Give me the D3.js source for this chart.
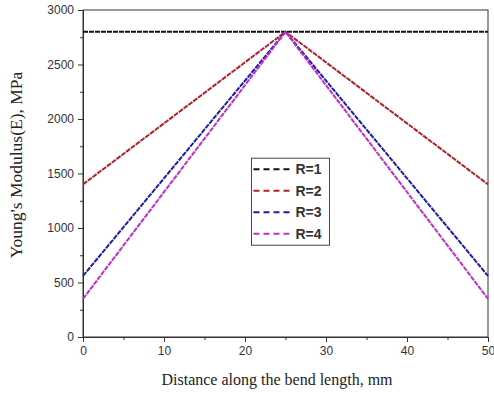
<!DOCTYPE html>
<html>
<head>
<meta charset="utf-8">
<script src="https://cdn.jsdelivr.net/npm/d3@7"></script>
<style>
  body { margin: 0; background: #fff; }
  svg { display: block; }
</style>
</head>
<body>
<div id="chart"></div>
<script>
// data
const distance = [0, 25, 50];
const seriesNames = ['R=1', 'R=2', 'R=3', 'R=4'];
const r1 = [2800, 2800, 2800];
const r2 = [1400, 2800, 1400];
const r3 = [560, 2800, 560];
const r4 = [350, 2800, 350];
const xTicks = [0, 10, 20, 30, 40, 50];
const yTicks = [0, 500, 1000, 1500, 2000, 2500, 3000];

const colors = ['#111111', '#b0202a', '#1c1ca8', '#c22cc8'];
const allSeries = [r1, r2, r3, r4];

const W = 494, H = 393;
const margin = { top: 10, right: 6, bottom: 56, left: 83 };
const width = W - margin.left - margin.right;
const height = H - margin.top - margin.bottom;

const svg = d3.select('#chart').append('svg')
  .attr('width', W).attr('height', H);
const g = svg.append('g')
  .attr('transform', `translate(${margin.left},${margin.top})`);

const x = d3.scaleLinear().domain([0, 50]).range([0, width]);
const y = d3.scaleLinear().domain([0, 3000]).range([height, 0]);

// frame
g.append('rect')
  .attr('width', width).attr('height', height)
  .attr('fill', 'none').attr('stroke', '#333').attr('stroke-width', 1);

// minor ticks
g.append('g')
  .attr('transform', `translate(0,${height})`)
  .call(d3.axisBottom(x).tickValues(d3.range(5, 50, 10)).tickSize(3).tickFormat(''))
  .call(a => a.select('.domain').remove())
  .call(a => a.selectAll('line').attr('stroke', '#333'));
g.append('g')
  .call(d3.axisLeft(y).tickValues(d3.range(250, 3000, 500)).tickSize(3).tickFormat(''))
  .call(a => a.select('.domain').remove())
  .call(a => a.selectAll('line').attr('stroke', '#333'));

// major axes
const fmt = d3.format('d');
const xAxis = g.append('g')
  .attr('transform', `translate(0,${height})`)
  .call(d3.axisBottom(x).tickValues(xTicks).tickFormat(fmt).tickSize(5).tickPadding(4));
const yAxis = g.append('g')
  .call(d3.axisLeft(y).tickValues(yTicks).tickFormat(fmt).tickSize(5).tickPadding(4));
[xAxis, yAxis].forEach(a => {
  a.select('.domain').attr('stroke', '#333');
  a.selectAll('line').attr('stroke', '#333');
  a.selectAll('text')
    .attr('font-family', 'Liberation Sans, Arial, sans-serif')
    .attr('font-size', 12).attr('fill', '#333');
});

// lines
const line = d3.line()
  .x((d, i) => x(distance[i]))
  .y(d => y(d));

g.selectAll('.series')
  .data(allSeries)
  .enter().append('path')
  .attr('class', 'series')
  .attr('d', d => line(d))
  .attr('fill', 'none')
  .attr('stroke', (d, i) => colors[i])
  .attr('stroke-width', 2)
  .attr('stroke-dasharray', '5,1');

// legend
const lg = g.append('g').attr('transform', `translate(${x(20.8)},${y(1640)})`);
lg.append('rect')
  .attr('width', 78).attr('height', 87)
  .attr('fill', '#fff').attr('stroke', '#444').attr('stroke-width', 1);
seriesNames.forEach((name, i) => {
  const yy = 11 + i * 21.5;
  lg.append('line')
    .attr('x1', 2).attr('x2', 40).attr('y1', yy).attr('y2', yy)
    .attr('stroke', colors[i]).attr('stroke-width', 2)
    .attr('stroke-dasharray', '6,4');
  lg.append('text')
    .attr('x', 44).attr('y', yy + 5)
    .attr('font-family', 'Liberation Sans, Arial, sans-serif')
    .attr('font-size', 14).attr('font-weight', 'bold').attr('fill', '#333')
    .text(name);
});

// axis titles
svg.append('text')
  .attr('x', 277).attr('y', 385)
  .attr('text-anchor', 'middle')
  .attr('font-family', 'Liberation Serif, Times New Roman, serif')
  .attr('font-size', 16).attr('fill', '#222')
  .text('Distance along the bend length, mm');

svg.append('text')
  .attr('transform', `translate(22,165) rotate(-90)`)
  .attr('text-anchor', 'middle')
  .attr('font-family', 'Liberation Serif, Times New Roman, serif')
  .attr('font-size', 17.5).attr('fill', '#222')
  .text("Young's Modulus(E), MPa");
</script>
</body>
</html>
